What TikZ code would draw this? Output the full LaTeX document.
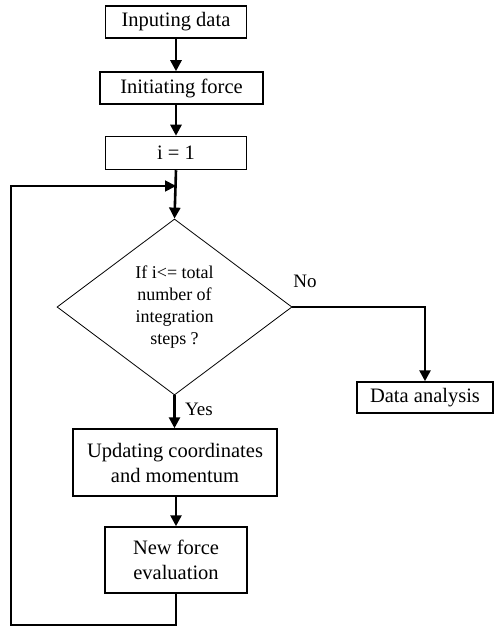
\documentclass[tikz,border=0pt]{standalone}
\usepackage{fontspec}
\setmainfont{Liberation Serif}
\usetikzlibrary{arrows.meta,shapes.geometric}
\begin{document}
\begin{tikzpicture}[x=1pt,y=-1pt,
  box/.style={draw,line width=1.5pt,inner sep=0pt,align=center,
    font=\fontsize{20.5}{25}\selectfont},
  flow/.style={line width=2.6pt,-{Triangle[length=11pt,width=11pt]}},
  loopline/.style={line width=1.8pt,-{Triangle[length=11pt,width=11pt]}},
  lbl/.style={font=\fontsize{19}{22}\selectfont,inner sep=0pt}]
\useasboundingbox (0,0) rectangle (495,628);

% process boxes
\node[box,minimum width=141pt,minimum height=32pt] (inp)  at (176,22)    {Inputing data};
\node[box,minimum width=163pt,minimum height=32pt] (init) at (181.5,88)  {Initiating force};
\node[box,minimum width=141pt,minimum height=33pt] (ione) at (176,153)   {i = 1};
\node[draw,diamond,line width=0.8pt,minimum width=235pt,minimum height=176pt,
  inner sep=0pt,align=center,font=\fontsize{18}{22}\selectfont]
  (dec) at (174.5,307) {If i<= total\\number of\\integration\\steps ?};
\node[box,minimum width=136pt,minimum height=31pt] (da)   at (425,397.5) {Data analysis};
\node[box,minimum width=204pt,minimum height=67pt] (upd)  at (175,462.5) {Updating coordinates\\and momentum};
\node[box,minimum width=142pt,minimum height=66pt] (nf)   at (176,560)   {New force\\evaluation};

% loop corners
\coordinate (lb) at (11,625);
\coordinate (lt) at (11,186);

% connectors
\draw[flow] (inp.south) -- (inp.south |- init.north);
\draw[flow] (inp.south |- init.south) -- (ione.north);
\draw[flow] (ione.south) -- (dec.north);
\draw[flow] (dec.east) -| (da.north);
\draw[flow] (dec.south) -- (dec.south |- upd.north);
\draw[flow] (upd.south -| nf.north) -- (nf.north);
\draw[loopline] (nf.south) |- (lb) -- (lt) -- (lt -| ione.south);

% branch labels
\node[lbl] (no)  at (305,281) {No};
\node[lbl] (yes) at (199,409) {Yes};
\end{tikzpicture}
\end{document}
